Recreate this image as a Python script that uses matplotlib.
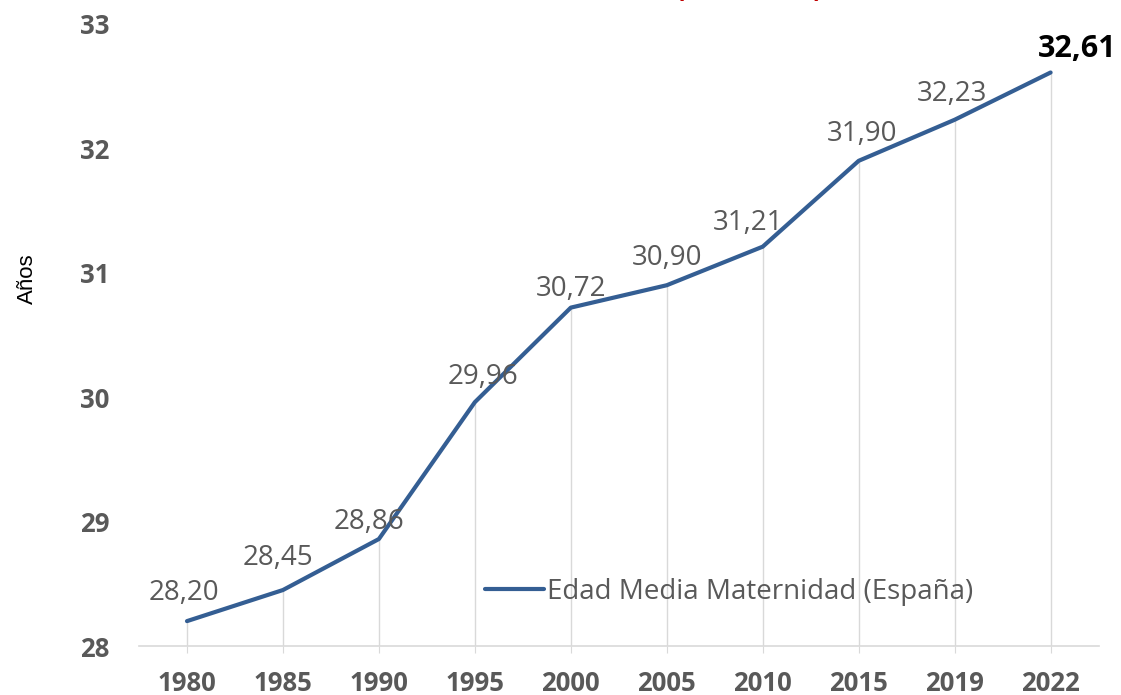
import numpy as np
import matplotlib.pyplot as plt

# Edad media a la maternidad en España
years = ['1980', '1985', '1990', '1995', '2000', '2005', '2010', '2015', '2019', '2022']
edad_media = [28.20, 28.45, 28.86, 29.96, 30.72, 30.90, 31.21, 31.90, 32.23, 32.61]
serie_label = 'Edad Media Maternidad (España)'

# label offsets in pixels (dx, dy) from each point
label_offsets = [(-3, 28), (-5, 32), (-10, 17), (8, 25), (0, 19), (0, 27),
                 (-15, 24), (3, 27), (-3, 26), (27, 23)]

blue = '#345e93'
gray = '#595959'
grid_gray = '#d9d9d9'
font = 'Open Sans'

fig = plt.figure(figsize=(11.21, 6.95), dpi=100)
ax = fig.add_axes([0.124, 0.0705, 0.856, 0.895])

x = np.arange(len(years))
line, = ax.plot(x, edad_media, color=blue, lw=3, solid_capstyle='round',
                solid_joinstyle='round', label=serie_label, zorder=3)

# drop lines from every point down to the axis
ax.vlines(x, 28, edad_media, color=grid_gray, lw=1, zorder=1)

for i, v in enumerate(edad_media):
    txt = '{:.2f}'.format(v).replace('.', ',')
    dx, dy = label_offsets[i]
    if i == len(edad_media) - 1:
        ax.annotate(txt, (x[i], v), xytext=(dx, dy), textcoords='offset pixels',
                    ha='center', va='center', fontsize=22, fontweight='bold',
                    color='black', family=font, zorder=4)
    else:
        ax.annotate(txt, (x[i], v), xytext=(dx, dy), textcoords='offset pixels',
                    ha='center', va='center', fontsize=20, color=gray,
                    family=font, zorder=4)

ax.set_xlim(-0.5, len(years) - 0.5)
ax.set_ylim(28, 33)
ax.set_xticks(x)
ax.set_xticklabels(years)
ax.set_yticks([28, 29, 30, 31, 32, 33])

for lab in ax.get_xticklabels() + ax.get_yticklabels():
    lab.set_family(font)
    lab.set_fontweight('bold')
    lab.set_fontsize(18.5)
    lab.set_color(gray)

ax.tick_params(axis='x', length=5, color=grid_gray, pad=12)
ax.tick_params(axis='y', length=0, pad=21)

for s in ['top', 'right', 'left']:
    ax.spines[s].set_visible(False)
ax.spines['bottom'].set_color(grid_gray)
ax.spines['bottom'].set_linewidth(1.2)

ax.set_ylabel('Años', fontsize=16, family='Liberation Sans')
ax.yaxis.set_label_coords(-0.105, 0.59)

leg = ax.legend(handles=[line], loc='center left', bbox_to_anchor=(0.335, 0.087),
                frameon=False, handlelength=2.1, handletextpad=0.12,
                prop={'family': font, 'size': 20})
for t in leg.get_texts():
    t.set_color(gray)

# title sits mostly above the canvas
fig.text(0.668, 1.006, '(1980-2022)', color='#c00000', fontsize=19,
         fontweight='bold', family=font, ha='center', va='baseline')

fig.savefig('out.png', dpi=100)
